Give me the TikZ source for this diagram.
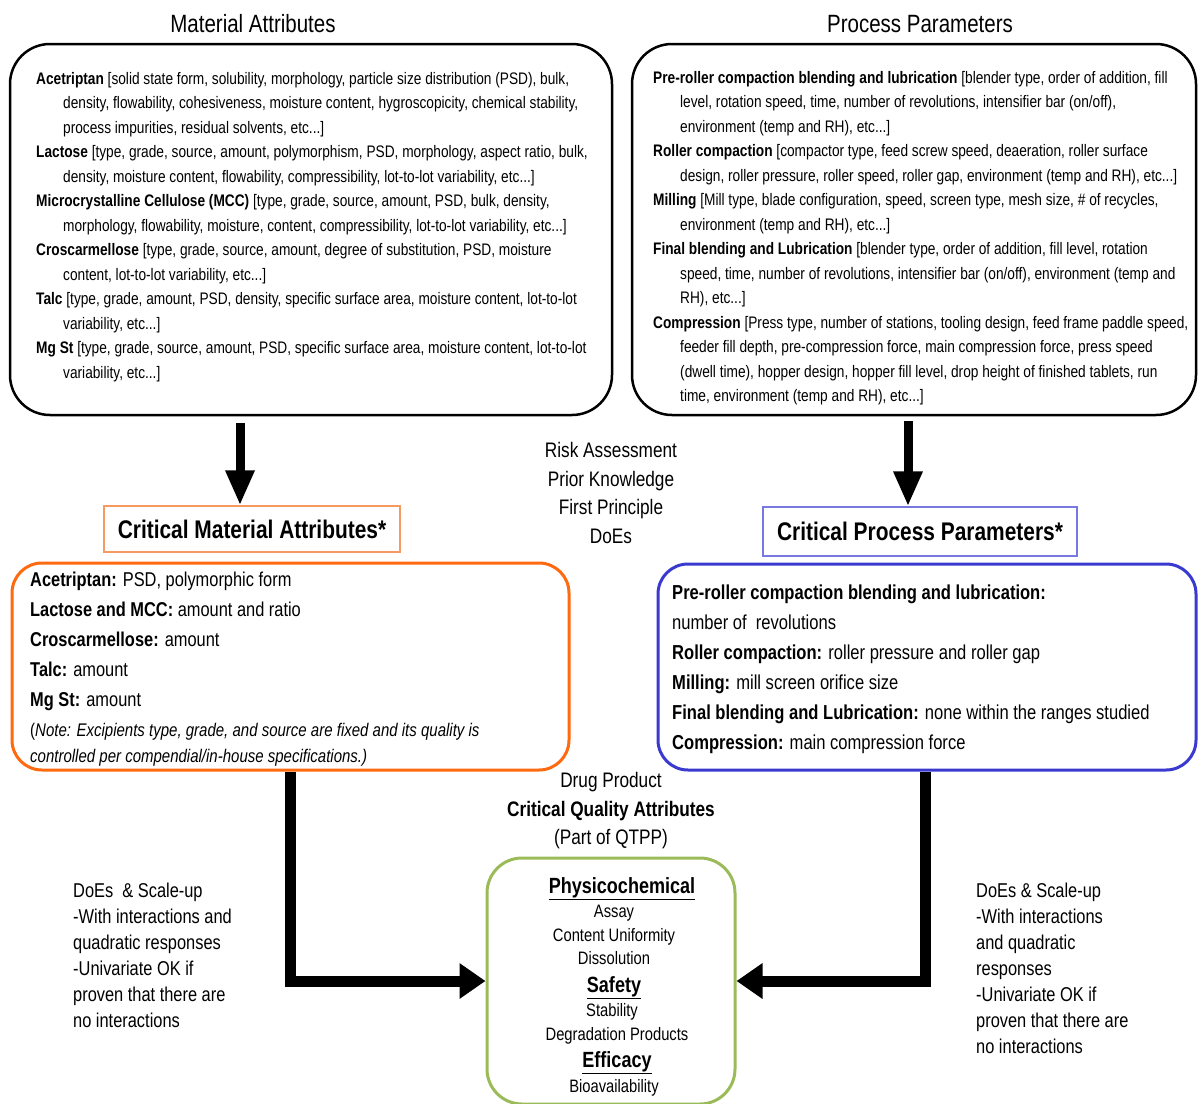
\documentclass[tikz,border=0pt]{standalone}
\usepackage{fontspec}
\setmainfont[FakeStretch=0.82]{Liberation Sans}
\usetikzlibrary{arrows.meta}
\definecolor{orng}{HTML}{FF6A10}
\definecolor{orngl}{HTML}{F79A60}
\definecolor{blu}{HTML}{3A3AD0}
\definecolor{blul}{HTML}{7878E0}
\definecolor{grn}{HTML}{9BBB59}
\newcommand{\ind}{\hspace*{27pt}}
\tikzset{
  topbox/.style={draw=black, line width=2.5pt, rounded corners=40pt},
  critbox/.style={draw, line width=3pt, rounded corners=30pt},
  headbox/.style={draw, line width=1.2pt, font=\fontsize{25.5}{28}\selectfont\bfseries, inner sep=0pt},
  bodytxt/.style={anchor=north west, inner sep=0pt, align=left},
  fatarrow/.style={line width=9pt, -{Triangle[length=35pt,width=27pt]}},
  elbow/.style={line width=11pt, -{Triangle[length=26pt,width=34pt]}},
  ttl/.style={font=\fontsize{25}{28}\selectfont, inner sep=0pt},
  mid/.style={font=\fontsize{21}{28.5}\selectfont, align=center, inner sep=0pt},
  gitem/.style={font=\fontsize{18}{20}\selectfont, inner sep=0pt, anchor=base},
  ghead/.style={font=\fontsize{22}{24}\selectfont\bfseries, inner sep=0pt, anchor=base},
  doe/.style={font=\fontsize{20}{26}\selectfont, align=left, anchor=north west, inner sep=0pt}
}
\begin{document}
\begin{tikzpicture}[x=1pt,y=-1pt]
\useasboundingbox (0,0) rectangle (1202,1103);
% titles
\node[ttl] (tma) at (253,24) {Material Attributes};
\node[ttl] (tpp) at (920,24) {Process Parameters};
% top boxes
\node[topbox, minimum width=602pt, minimum height=371pt] (ma) at (311,229.5) {};
\node[topbox, minimum width=564pt, minimum height=371pt] (pp) at (914,229.5) {};
\node[bodytxt, font=\fontsize{16.7}{24.5}\selectfont] (matxt) at (36,72) {%
\textbf{Acetriptan} [solid state form, solubility, morphology, particle size distribution (PSD), bulk,\\
\ind density, flowability, cohesiveness, moisture content, hygroscopicity, chemical stability,\\
\ind process impurities, residual solvents, etc...]\\
\textbf{Lactose} [type, grade, source, amount, polymorphism, PSD, morphology, aspect ratio, bulk,\\
\ind density, moisture content, flowability, compressibility, lot-to-lot variability, etc...]\\
\textbf{Microcrystalline Cellulose (MCC)} [type, grade, source, amount, PSD, bulk, density,\\
\ind morphology, flowability, moisture, content, compressibility, lot-to-lot variability, etc...]\\
\textbf{Croscarmellose} [type, grade, source, amount, degree of substitution, PSD, moisture\\
\ind content, lot-to-lot variability, etc...]\\
\textbf{Talc} [type, grade, amount, PSD, density, specific surface area, moisture content, lot-to-lot\\
\ind variability, etc...]\\
\textbf{Mg St} [type, grade, source, amount, PSD, specific surface area, moisture content, lot-to-lot\\
\ind variability, etc...]};
\node[bodytxt, font=\fontsize{16.7}{24.5}\selectfont] (pptxt) at (653,71) {%
\textbf{Pre-roller compaction blending and lubrication} [blender type, order of addition, fill\\
\ind level, rotation speed, time, number of revolutions, intensifier bar (on/off),\\
\ind environment (temp and RH), etc...]\\
\textbf{Roller compaction} [compactor type, feed screw speed, deaeration, roller surface\\
\ind design, roller pressure, roller speed, roller gap, environment (temp and RH), etc...]\\
\textbf{Milling} [Mill type, blade configuration, speed, screen type, mesh size, \# of recycles,\\
\ind environment (temp and RH), etc...]\\
\textbf{Final blending and Lubrication} [blender type, order of addition, fill level, rotation\\
\ind speed, time, number of revolutions, intensifier bar (on/off), environment (temp and\\
\ind RH), etc...]\\
\textbf{Compression} [Press type, number of stations, tooling design, feed frame paddle speed,\\
\ind feeder fill depth, pre-compression force, main compression force, press speed\\
\ind (dwell time), hopper design, hopper fill level, drop height of finished tablets, run\\
\ind time, environment (temp and RH), etc...]};
% middle text
\node[mid] (risk) at (611,493) {Risk Assessment\\Prior Knowledge\\First Principle\\DoEs};
% header boxes
\node[headbox, draw=orngl, minimum width=296pt, minimum height=46pt] (cma) at (252,529) {Critical Material Attributes*};
\node[headbox, draw=blul, minimum width=314pt, minimum height=49pt] (cpp) at (920,531.5) {Critical Process Parameters*};
% arrows down
\coordinate (a1) at (240,423);
\coordinate (a2) at (908,421);
\draw[fatarrow] (a1) -- (a1 |- cma.north);
\draw[fatarrow] (a2) -- (a2 |- cpp.north);
% critical boxes
\node[critbox, draw=orng, minimum width=557pt, minimum height=207pt] (oc) at (290.5,666.5) {};
\node[critbox, draw=blu, minimum width=538pt, minimum height=206pt] (bc) at (927,667) {};
\node[bodytxt, font=\fontsize{20}{30}\selectfont] (octxt) at (30,572) {%
\textbf{Acetriptan:} PSD, polymorphic form\\
\textbf{Lactose and MCC:} amount and ratio\\
\textbf{Croscarmellose:} amount\\
\textbf{Talc:} amount\\
\textbf{Mg St:} amount\\[0pt]
{\fontsize{18.3}{26}\selectfont(\textit{Note: Excipients type, grade, and source are fixed and its quality is}}\\[-4pt]
{\fontsize{18.3}{26}\selectfont\textit{controlled per compendial/in-house specifications.)}}};
\node[bodytxt, font=\fontsize{20.2}{30}\selectfont] (bctxt) at (672,585) {%
\textbf{Pre-roller compaction blending and lubrication:}\\
number of\ \ revolutions\\
\textbf{Roller compaction:} roller pressure and roller gap\\
\textbf{Milling:} mill screen orifice size\\
\textbf{Final blending and Lubrication:} none within the ranges studied\\
\textbf{Compression:} main compression force};
% drug product
\node[mid] (dp) at (611,811) {Drug Product\\\textbf{Critical Quality Attributes}\\(Part of QTPP)};
% green box
\node[draw=grn, line width=3pt, rounded corners=35pt, minimum width=248pt, minimum height=246pt] (gq) at (611,981) {};
\node[ghead] (g1) at (622,893) {\underline{Physicochemical}};
\node[gitem] (g2) at (614,917) {Assay};
\node[gitem] (g3) at (614,941) {Content Uniformity};
\node[gitem] (g4) at (614,964) {Dissolution};
\node[ghead] (g5) at (614,992) {\underline{Safety}};
\node[gitem] (g6) at (612,1016) {Stability};
\node[gitem] (g7) at (617,1040) {Degradation Products};
\node[ghead] (g8) at (617,1067) {\underline{Efficacy}};
\node[gitem] (g9) at (614,1092) {Bioavailability};
% elbow connectors
\draw[elbow] (oc.south -| 290,0) |- (gq.west);
\draw[elbow] (bc.south -| 925,0) |- (gq.east);
% DoEs texts
\node[doe] (dl) at (73,883) {DoEs\ \ \& Scale-up\\-With interactions and\\quadratic responses\\-Univariate OK if\\proven that there are\\no interactions};
\node[doe] (dr) at (976,883) {DoEs \& Scale-up\\-With interactions\\and quadratic\\responses\\-Univariate OK if\\proven that there are\\no interactions};
\end{tikzpicture}
\end{document}
